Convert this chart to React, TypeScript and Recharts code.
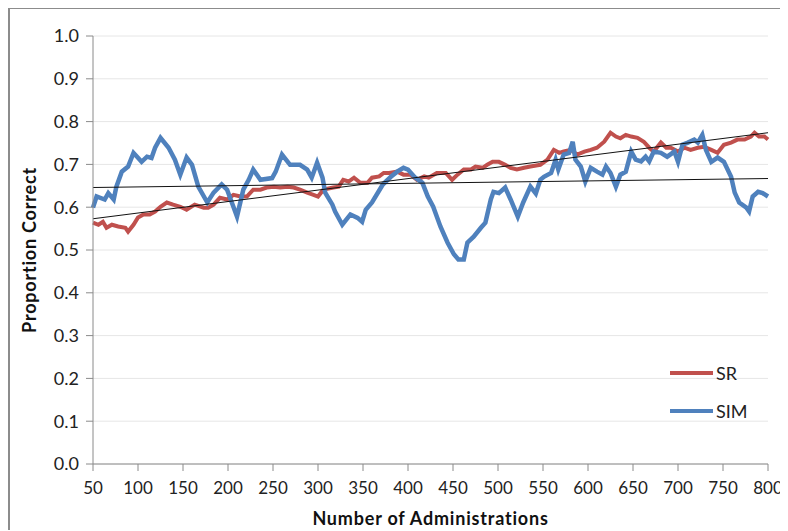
import React from 'react'
import { LineChart, Line, XAxis, YAxis, CartesianGrid } from 'recharts'

const xTicks = [50, 100, 150, 200, 250, 300, 350, 400, 450, 500, 550, 600, 650, 700, 750, 800]
const yTicks = [0, 0.1, 0.2, 0.3, 0.4, 0.5, 0.6, 0.7, 0.8, 0.9, 1.0]

const srX = [50, 56, 61, 65, 71, 78, 86, 89, 95, 100, 106, 113, 119, 125, 132, 139, 147, 154, 163, 173, 178, 184, 191, 199, 206, 214, 221, 228, 236, 243, 251, 258, 266, 273, 280, 288, 295, 300, 306, 317, 323, 328, 334, 340, 347, 355, 360, 368, 373, 379, 388, 395, 403, 410, 418, 423, 432, 442, 449, 455, 462, 470, 475, 483, 488, 494, 501, 508, 514, 521, 529, 536, 544, 547, 555, 562, 568, 573, 581, 588, 596, 603, 610, 618, 625, 631, 636, 642, 648, 655, 662, 668, 673, 681, 687, 692, 700, 707, 714, 722, 729, 737, 744, 751, 759, 766, 774, 781, 785, 790, 796, 800]
const srY = [0.564, 0.559, 0.566, 0.552, 0.559, 0.555, 0.552, 0.543, 0.559, 0.576, 0.583, 0.583, 0.59, 0.601, 0.611, 0.606, 0.601, 0.594, 0.606, 0.599, 0.599, 0.606, 0.622, 0.618, 0.629, 0.625, 0.625, 0.641, 0.641, 0.646, 0.648, 0.646, 0.648, 0.646, 0.641, 0.634, 0.629, 0.625, 0.641, 0.646, 0.648, 0.664, 0.66, 0.669, 0.657, 0.657, 0.669, 0.672, 0.68, 0.68, 0.683, 0.676, 0.676, 0.664, 0.672, 0.669, 0.68, 0.68, 0.664, 0.676, 0.688, 0.688, 0.695, 0.692, 0.699, 0.706, 0.706, 0.699, 0.692, 0.688, 0.692, 0.695, 0.698, 0.699, 0.711, 0.734, 0.727, 0.73, 0.734, 0.723, 0.73, 0.734, 0.739, 0.753, 0.774, 0.765, 0.761, 0.769, 0.765, 0.762, 0.753, 0.739, 0.73, 0.751, 0.739, 0.739, 0.73, 0.739, 0.734, 0.739, 0.741, 0.734, 0.727, 0.746, 0.751, 0.758, 0.758, 0.765, 0.774, 0.765, 0.765, 0.758]

const simX = [50, 54, 63, 67, 73, 76, 82, 89, 95, 104, 110, 115, 119, 125, 134, 141, 147, 154, 160, 167, 177, 184, 193, 199, 206, 210, 217, 223, 228, 236, 249, 253, 260, 269, 280, 288, 293, 299, 305, 308, 316, 319, 327, 336, 344, 349, 353, 360, 372, 381, 388, 395, 400, 408, 416, 422, 428, 436, 444, 451, 456, 462, 466, 473, 481, 486, 492, 495, 501, 508, 514, 522, 528, 536, 542, 547, 551, 559, 564, 567, 573, 579, 583, 586, 592, 597, 603, 610, 616, 620, 625, 631, 636, 642, 648, 653, 659, 664, 668, 673, 681, 688, 696, 700, 705, 711, 718, 722, 727, 731, 737, 744, 751, 759, 763, 768, 776, 779, 783, 789, 794, 800]
const simY = [0.599, 0.625, 0.618, 0.633, 0.618, 0.648, 0.683, 0.695, 0.727, 0.706, 0.718, 0.715, 0.739, 0.762, 0.739, 0.711, 0.676, 0.716, 0.699, 0.648, 0.611, 0.634, 0.653, 0.641, 0.601, 0.578, 0.641, 0.664, 0.688, 0.664, 0.668, 0.683, 0.723, 0.699, 0.699, 0.688, 0.669, 0.704, 0.669, 0.634, 0.606, 0.59, 0.559, 0.583, 0.575, 0.566, 0.594, 0.611, 0.653, 0.671, 0.683, 0.692, 0.688, 0.669, 0.657, 0.625, 0.601, 0.555, 0.517, 0.49, 0.478, 0.478, 0.517, 0.531, 0.552, 0.564, 0.618, 0.636, 0.633, 0.646, 0.618, 0.578, 0.611, 0.648, 0.632, 0.664, 0.671, 0.68, 0.711, 0.688, 0.723, 0.727, 0.753, 0.711, 0.695, 0.66, 0.692, 0.683, 0.676, 0.695, 0.68, 0.648, 0.676, 0.683, 0.73, 0.711, 0.707, 0.718, 0.707, 0.73, 0.727, 0.718, 0.73, 0.706, 0.746, 0.751, 0.758, 0.751, 0.769, 0.734, 0.706, 0.716, 0.706, 0.671, 0.634, 0.611, 0.599, 0.59, 0.625, 0.636, 0.633, 0.625]

// linear trend endpoints
const trendX = [50, 800]
const srTrend = [0.573, 0.774]
const simTrend = [0.646, 0.667]

const zip = (xs: number[], ys: number[]) => xs.map((x, i) => ({ x, y: ys[i] }))

const srData = zip(srX, srY)
const simData = zip(simX, simY)
const srTrendData = zip(trendX, srTrend)
const simTrendData = zip(trendX, simTrend)

const RED = '#C0504D'
const BLUE = '#4F81BD'
const FONT = 'Lato, "Open Sans", sans-serif'
const yTickStyle = { fontSize: 18, fill: '#222', fontFamily: FONT }
const xTickStyle = { fontSize: 17, fill: '#222', fontFamily: FONT }
const titleStyle = { fontFamily: FONT, fontSize: 18, fontWeight: 700, fill: '#111', letterSpacing: 0.8 }

const legendItems = [
  { name: 'SR', color: RED },
  { name: 'SIM', color: BLUE },
]

export default function App() {
  return (
    <div style={{ position: 'relative', width: 780, height: 523, marginTop: -1, borderTop: '2px solid #8c8c8c', borderLeft: '2px solid #8c8c8c', boxSizing: 'border-box' }}>
      <style>{`.recharts-surface{overflow:visible}`}</style>
      <LineChart width={778} height={521} margin={{ top: 27, right: 20, bottom: 0, left: 0 }}>
        <CartesianGrid vertical={false} stroke="#e6e6e6" />
        <XAxis
          dataKey="x"
          type="number"
          domain={[50, 800]}
          ticks={xTicks}
          interval={0}
          height={66}
          allowDuplicatedCategory={false}
          tick={xTickStyle}
          tickSize={7}
          tickMargin={11}
          stroke="#8a8a8a"
          label={{
            content: ({ viewBox }: any) => (
              <text x={viewBox.x + viewBox.width / 2} y={viewBox.y + 61} textAnchor="middle" style={titleStyle}>
                Number of Administrations
              </text>
            ),
          }}
        />
        <YAxis
          type="number"
          domain={[0, 1]}
          ticks={yTicks}
          interval={0}
          width={83}
          tick={yTickStyle}
          tickFormatter={(v: number) => v.toFixed(1)}
          tickSize={7}
          tickMargin={7}
          stroke="#8a8a8a"
          label={{
            content: ({ viewBox }: any) => (
              <text x={19} y={viewBox.y + viewBox.height / 2} textAnchor="middle"
                transform={`rotate(-90, 19, ${viewBox.y + viewBox.height / 2})`}
                dominantBaseline="central" style={titleStyle}>
                Proportion Correct
              </text>
            ),
          }}
        />
        <Line data={srData} dataKey="y" name="SR" stroke={RED} strokeWidth={4} dot={false} isAnimationActive={false} />
        <Line data={simData} dataKey="y" name="SIM" stroke={BLUE} strokeWidth={4.5} dot={false} isAnimationActive={false} />
        <Line data={srTrendData} dataKey="y" stroke="#111" strokeWidth={1} dot={false} isAnimationActive={false} />
        <Line data={simTrendData} dataKey="y" stroke="#111" strokeWidth={1} dot={false} isAnimationActive={false} />
      </LineChart>
      <div style={{ position: 'absolute', left: 660, top: 345, fontFamily: FONT, fontSize: 18, color: '#222' }}>
        {legendItems.map((it) => (
          <div key={it.name} style={{ display: 'flex', alignItems: 'center', height: 38 }}>
            <span style={{ display: 'inline-block', width: 43, height: 4, background: it.color, marginRight: 3 }} />
            <span>{it.name}</span>
          </div>
        ))}
      </div>
    </div>
  )
}
